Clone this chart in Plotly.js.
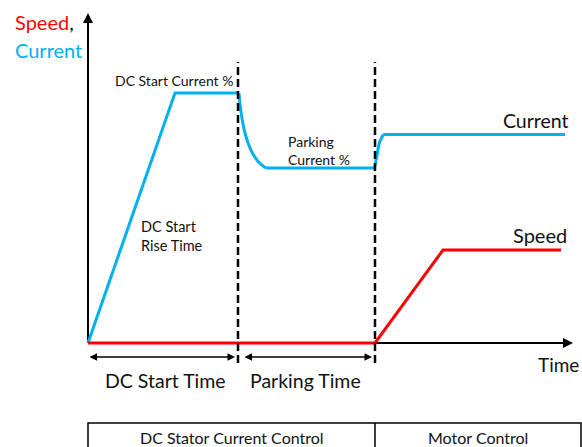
<!DOCTYPE html>
<html>
<head>
<meta charset="utf-8">
<script src="https://cdn.plot.ly/plotly-3.0.1.min.js"></script>
<style>
  html, body { margin: 0; padding: 0; background: #ffffff; }
  #chart { width: 582px; height: 447px; }
</style>
</head>
<body>
<div id="chart"></div>
<script>
// Current profile (time in arbitrary units, value in arbitrary units)
const currentRampT = [0, 8.7, 15.1];
const currentRampV = [0, 25.0, 25.0];
const currentDecayT = [15.1, 15.27, 15.7, 16.37, 17.03, 17.77];
const currentDecayV = [25.0, 23.3, 21.0, 19.13, 18.13, 17.5];
const currentParkT = [17.77, 28.65];
const currentParkV = [17.5, 17.5];
const currentStepT = [28.65, 28.87, 29.13, 29.53];
const currentStepV = [17.5, 18.6, 19.97, 20.85];
const currentRunT = [29.53, 47.7];
const currentRunV = [20.85, 20.85];

// Speed profile
const speedT = [0, 28.7, 35.5, 47.3];
const speedV = [0, 0, 9.3, 9.3];

// Phase boundaries
const dcStartEnd = 15.0;
const parkingEnd = 28.7;

const phaseLabels = ['DC Start Time', 'Parking Time'];
const controlLabels = ['DC Stator Current Control', 'Motor Control'];

const BLUE = '#00b0f0';
const RED = '#ff0000';
const INK = '#111111';
const FONT = 'Lato, "Open Sans", sans-serif';

function seg(x, y, color, shape) {
    return {
        x: x, y: y, type: 'scatter', mode: 'lines',
        line: { color: color, width: 3, shape: shape || 'linear', smoothing: 1 },
        hoverinfo: 'skip', showlegend: false
    };
}

const data = [
    seg(currentRampT, currentRampV, BLUE),
    seg(currentDecayT, currentDecayV, BLUE, 'spline'),
    seg(currentParkT, currentParkV, BLUE),
    seg(currentStepT, currentStepV, BLUE, 'spline'),
    seg(currentRunT, currentRunV, BLUE),
    seg(speedT, speedV, RED)
];

const xEnd = 48.5, yTop = 33.0;

const shapes = [
    // axes
    { type: 'line', x0: 0, x1: xEnd - 0.6, y0: 0, y1: 0, layer: 'below', line: { color: 'black', width: 2 } },
    { type: 'line', x0: 0, x1: 0, y0: 0, y1: yTop - 0.6, layer: 'below', line: { color: 'black', width: 2 } },
    // phase boundaries
    { type: 'line', x0: dcStartEnd, x1: dcStartEnd, y0: -2.0, y1: 28.1, line: { color: 'black', width: 2.5, dash: '8px,4px' } },
    { type: 'line', x0: parkingEnd, x1: parkingEnd, y0: -2.0, y1: 28.1, line: { color: 'black', width: 2.5, dash: '8px,4px' } },
    // control table
    { type: 'rect', x0: 0, x1: 49.3, y0: -8.0, y1: -11.0, line: { color: 'black', width: 1.5 } },
    { type: 'line', x0: parkingEnd, x1: parkingEnd, y0: -8.0, y1: -11.0, line: { color: 'black', width: 1.5 } }
];

function txt(x, y, text, size, opts) {
    return Object.assign({
        x: x, y: y, xref: 'x', yref: 'y', text: text, showarrow: false,
        xanchor: 'left', yanchor: 'middle', align: 'left',
        font: { family: FONT, size: size, color: INK }
    }, opts || {});
}

function arrow(x0, y0, x1, y1, side, w) {
    return {
        x: x1, y: y1, ax: x0, ay: y0, xref: 'x', yref: 'y', axref: 'x', ayref: 'y',
        text: '', showarrow: true, arrowhead: 2, arrowsize: 1, arrowwidth: w || 2,
        arrowcolor: 'black', arrowside: side || 'end', standoff: 0, startstandoff: 0
    };
}

const annotations = [
    arrow(xEnd - 1, 0, xEnd, 0),
    arrow(0, yTop - 1, 0, yTop),
    arrow(0, -1.4, dcStartEnd - 0.3, -1.4, 'end+start', 1.5),
    arrow(dcStartEnd + 0.5, -1.4, parkingEnd - 0.3, -1.4, 'end+start', 1.5),

    txt(-7.5, 32.1, '<span style="color:' + RED + '">Speed</span>,', 20),
    txt(-7.5, 29.3, 'Current', 20, { font: { family: FONT, size: 20, color: BLUE } }),
    txt(8.6, 26.3, 'DC Start Current %', 14, { xanchor: 'center' }),
    txt(5.1, 10.7, 'DC Start<br>Rise Time', 14.5),
    txt(19.8, 19.3, 'Parking<br>Current %', 14),
    txt(48.3, 22.3, 'Current', 19.5, { xanchor: 'right' }),
    txt(48.1, 10.8, 'Speed', 20, { xanchor: 'right' }),
    txt(49.25, -2.1, 'Time', 19, { xanchor: 'right' }),
    txt(7.7, -3.7, phaseLabels[0], 19.5, { xanchor: 'center' }),
    txt(21.75, -3.7, phaseLabels[1], 19.5, { xanchor: 'center' }),
    txt(14.4, -9.4, controlLabels[0], 16, { xanchor: 'center' }),
    txt(39.0, -9.4, controlLabels[1], 16, { xanchor: 'center' })
];

const layout = {
    width: 582,
    height: 447,
    margin: { l: 0, r: 0, t: 0, b: 0, pad: 0 },
    paper_bgcolor: '#ffffff',
    plot_bgcolor: '#ffffff',
    xaxis: { range: [-8.8, 49.4], visible: false, fixedrange: true },
    yaxis: { range: [-10.4, 34.3], visible: false, fixedrange: true },
    shapes: shapes,
    annotations: annotations,
    showlegend: false,
    font: { family: FONT }
};

Plotly.newPlot('chart', data, layout, { displayModeBar: false, staticPlot: true });
</script>
</body>
</html>
